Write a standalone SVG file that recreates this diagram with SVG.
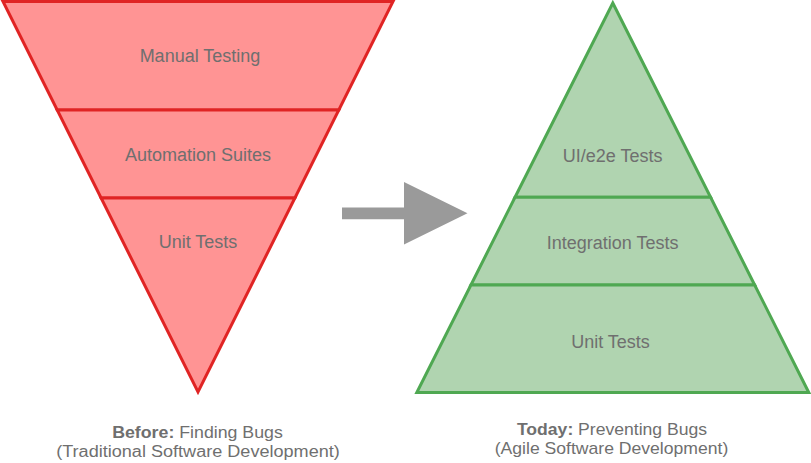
<svg xmlns="http://www.w3.org/2000/svg" width="811" height="463" viewBox="0 0 811 463">
  <style>
    .red { fill: #ff9494; stroke: #e02424; stroke-width: 3; stroke-linejoin: miter; }
    .green { fill: #b0d4b0; stroke: #4fa852; stroke-width: 3; stroke-linejoin: miter; }
    .lbl { font-family: "Liberation Sans", Arial, sans-serif; font-size: 18px; fill: #6f6f6f; text-anchor: middle; }
    .cap { font-family: "Liberation Sans", Arial, sans-serif; font-size: 16px; fill: #6f6f6f; text-anchor: middle; }
    .b { font-weight: bold; }
    .arrow { fill: #9a9a9a; }
  </style>
  <rect width="811" height="463" fill="#ffffff"/>

  <!-- Before: inverted pyramid -->
  <g id="before-manual">
    <polygon class="red" points="3,1.5 393,1.5 338.8,110 57.2,110"/>
    <text class="lbl" x="200" y="61.5">Manual Testing</text>
  </g>
  <g id="before-automation">
    <polygon class="red" points="57.2,110 338.8,110 294.9,198 101.1,198"/>
    <text class="lbl" x="198" y="161">Automation Suites</text>
  </g>
  <g id="before-unit">
    <polygon class="red" points="101.1,198 294.9,198 198,392"/>
    <text class="lbl" x="198" y="248">Unit Tests</text>
  </g>

  <!-- Connector arrow -->
  <g id="connectors">
    <polygon class="arrow" points="342,207.5 404,207.5 404,182 467.5,213.3 404,244.5 404,219.3 342,219.3"/>
  </g>

  <!-- Today: pyramid -->
  <g id="today-ui">
    <polygon class="green" points="612.8,3 710.6,197.3 515,197.3"/>
    <text class="lbl" x="612.7" y="162">UI/e2e Tests</text>
  </g>
  <g id="today-integration">
    <polygon class="green" points="515,197.3 710.6,197.3 754.7,285 470.9,285"/>
    <text class="lbl" x="612.7" y="249">Integration Tests</text>
  </g>
  <g id="today-unit">
    <polygon class="green" points="470.9,285 754.7,285 808.8,392.5 416.8,392.5"/>
    <text class="lbl" x="610.5" y="348">Unit Tests</text>
  </g>

  <!-- Captions -->
  <g id="caption-before">
    <g transform="translate(197.5,437.5) scale(1.11,1)">
      <text class="cap" x="0" y="0"><tspan class="b">Before:</tspan> Finding Bugs</text>
    </g>
    <g transform="translate(198,457) scale(1.13,1)">
      <text class="cap" x="0" y="0">(Traditional Software Development)</text>
    </g>
  </g>
  <g id="caption-today">
    <g transform="translate(612,434.5) scale(1.1,1)">
      <text class="cap" x="0" y="0"><tspan class="b">Today:</tspan> Preventing Bugs</text>
    </g>
    <g transform="translate(611.5,453.5) scale(1.1,1)">
      <text class="cap" x="0" y="0">(Agile Software Development)</text>
    </g>
  </g>
</svg>
